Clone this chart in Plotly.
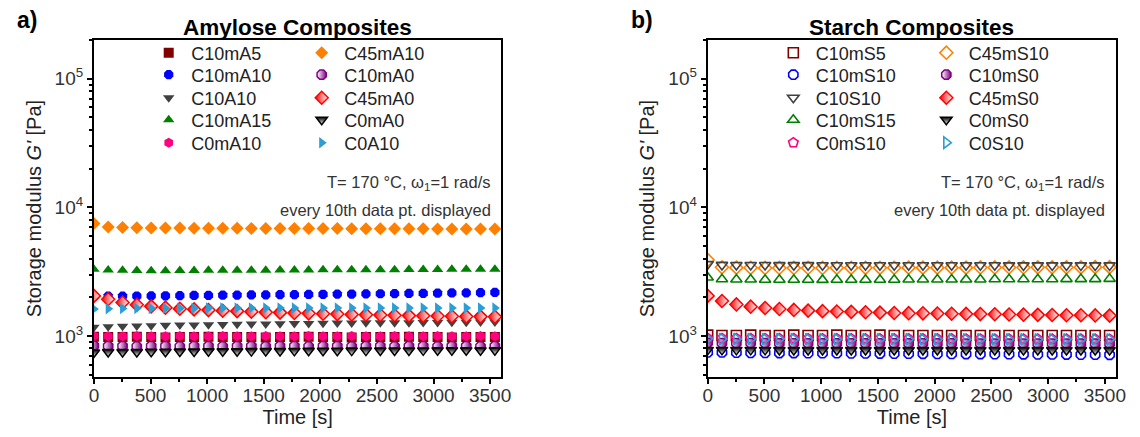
import math
import plotly.graph_objects as go

# ---------------- data ----------------
time_s = [0, 126, 253, 379, 506, 632, 759, 885, 1012, 1138, 1265, 1391, 1518, 1644, 1771,
          1897, 2024, 2150, 2277, 2403, 2530, 2656, 2783, 2909, 3036, 3162, 3289, 3415, 3542]

# Amylose composites (G' in Pa)
C10mA5 = [985, 980, 980, 985, 980, 975, 980, 980, 985, 980, 980, 980, 975, 980, 980,
          985, 980, 980, 975, 980, 980, 980, 985, 980, 980, 975, 980, 980, 980]
C10mA10 = [2030, 2040, 2040, 2045, 2050, 2055, 2060, 2065, 2070, 2075, 2080, 2085, 2090, 2095, 2100,
           2105, 2110, 2115, 2120, 2125, 2130, 2135, 2140, 2145, 2150, 2160, 2165, 2170, 2180]
C10A10 = [1170, 1180, 1190, 1195, 1200, 1210, 1215, 1220, 1225, 1230, 1235, 1240, 1240, 1245, 1250,
          1250, 1255, 1260, 1260, 1265, 1265, 1270, 1270, 1275, 1275, 1280, 1280, 1285, 1285]
C10mA15 = [3300, 3260, 3240, 3230, 3220, 3220, 3230, 3230, 3240, 3240, 3250, 3250, 3250, 3260, 3260,
           3260, 3270, 3270, 3270, 3280, 3280, 3280, 3290, 3290, 3290, 3300, 3300, 3300, 3310]
C0mA10 = [1000, 995, 995, 1000, 995, 995, 1000, 995, 995, 1000, 995, 995, 1000, 995, 995,
          1000, 995, 995, 1000, 995, 995, 1000, 995, 995, 1000, 995, 995, 1000, 995]
C45mA10 = [7500, 7050, 6980, 6950, 6920, 6900, 6900, 6880, 6880, 6870, 6870, 6860, 6860, 6850, 6850,
           6850, 6840, 6840, 6830, 6830, 6820, 6820, 6810, 6810, 6800, 6800, 6790, 6790, 6780]
C10mA0 = [840, 835, 835, 830, 835, 835, 830, 835, 835, 830, 835, 835, 830, 835, 835,
          830, 835, 835, 830, 835, 835, 830, 835, 835, 830, 835, 835, 830, 835]
C45mA0 = [2050, 1930, 1820, 1750, 1700, 1660, 1630, 1610, 1590, 1570, 1560, 1545, 1530, 1520, 1510,
          1500, 1490, 1480, 1470, 1465, 1455, 1450, 1440, 1435, 1430, 1425, 1420, 1415, 1410]
C0mA0 = [745, 750, 750, 752, 755, 755, 757, 758, 760, 760, 762, 763, 764, 765, 766,
         767, 768, 769, 770, 770, 771, 772, 772, 773, 774, 774, 775, 775, 776]
C0A10 = [1620, 1630, 1635, 1640, 1640, 1645, 1645, 1645, 1650, 1650, 1650, 1650, 1650, 1650, 1650,
         1650, 1650, 1650, 1650, 1650, 1650, 1650, 1650, 1650, 1650, 1650, 1650, 1650, 1650]

# Starch composites (G' in Pa)
C10mS5 = [1015, 1010, 1010, 1015, 1010, 1010, 1015, 1010, 1010, 1015, 1010, 1010, 1015, 1010, 1010,
          1010, 1010, 1010, 1010, 1010, 1010, 1010, 1010, 1010, 1010, 1010, 1010, 1010, 1010]
C10mS10 = [745, 745, 742, 740, 740, 738, 738, 736, 735, 735, 733, 732, 731, 730, 729,
           728, 727, 726, 725, 724, 723, 722, 721, 720, 719, 718, 717, 716, 715]
C10S10 = [3620, 3570, 3560, 3560, 3560, 3555, 3555, 3555, 3550, 3550, 3550, 3550, 3550, 3550, 3550,
          3545, 3545, 3545, 3545, 3545, 3545, 3540, 3540, 3540, 3540, 3540, 3540, 3540, 3540]
C10mS15 = [2850, 2760, 2750, 2750, 2740, 2740, 2740, 2740, 2730, 2740, 2740, 2740, 2740, 2740, 2750,
           2750, 2750, 2750, 2750, 2750, 2760, 2760, 2760, 2760, 2760, 2770, 2770, 2770, 2780]
C0mS10 = [960, 958, 958, 956, 956, 955, 955, 954, 954, 953, 953, 952, 952, 951, 951,
          950, 950, 950, 949, 949, 948, 948, 948, 947, 947, 946, 946, 946, 945]
C45mS10 = [3900, 3420, 3400, 3390, 3380, 3380, 3380, 3380, 3380, 3390, 3390, 3390, 3390, 3390, 3400,
           3400, 3400, 3400, 3400, 3410, 3410, 3410, 3410, 3420, 3420, 3420, 3420, 3430, 3430]
C10mS0 = [885, 882, 880, 880, 880, 878, 878, 878, 877, 877, 877, 876, 876, 876, 875,
          875, 875, 875, 874, 874, 874, 874, 873, 873, 873, 873, 872, 872, 872]
C45mS0 = [2050, 1870, 1760, 1690, 1650, 1620, 1595, 1575, 1560, 1550, 1540, 1530, 1520, 1510, 1505,
          1500, 1495, 1490, 1485, 1480, 1475, 1470, 1465, 1460, 1455, 1450, 1450, 1445, 1440]
C0mS0 = [780, 780, 780, 780, 780, 779, 779, 779, 779, 779, 778, 778, 778, 778, 778,
         778, 778, 778, 778, 778, 778, 778, 778, 778, 778, 778, 778, 778, 778]
C0S10 = [950, 948, 948, 947, 947, 946, 946, 946, 945, 945, 945, 944, 944, 944, 943,
         943, 943, 943, 942, 942, 942, 942, 941, 941, 941, 941, 940, 940, 940]

y_tick_vals = [1e3, 1e4, 1e5]
y_tick_text = ["10<sup>3</sup>", "10<sup>4</sup>", "10<sup>5</sup>"]
y_minor_vals = [500, 600, 700, 800, 900, 2000, 3000, 4000, 5000, 6000, 7000, 8000, 9000,
                20000, 30000, 40000, 50000, 60000, 70000, 80000, 90000, 200000]
x_tick_vals = [0, 500, 1000, 1500, 2000, 2500, 3000, 3500]

# ---------------- styles ----------------
FONT = "Liberation Sans"
OFF = 8                      # default page body margin
W, H = 1140 - OFF, 437 - OFF
MS = 10


def px(v):
    return (v - OFF) / W


def py(v):
    return (437 - v) / H


# (name, values, symbol, color, fill-mode, legend-row)
amylose = [
    ("C10mA5", C10mA5, "square", "#800000", "full", 1),
    ("C45mA10", C45mA10, "diamond", "#FF8000", "full", 1),
    ("C10mA10", C10mA10, "octagon", "#0000FF", "full", 2),
    ("C10mA0", C10mA0, "octagon", "#800080", "half-right", 2),
    ("C10A10", C10A10, "triangle-down", "#404040", "full", 3),
    ("C45mA0", C45mA0, "diamond", "#FF0000", "half-left", 3),
    ("C10mA15", C10mA15, "triangle-up", "#008000", "full", 4),
    ("C0mA0", C0mA0, "triangle-down", "#000000", "half-top", 4),
    ("C0mA10", C0mA10, "hexagon", "#FF0080", "full", 5),
    ("C0A10", C0A10, "triangle-right", "#2A9FD6", "full", 5),
]
starch = [
    ("C10mS5", C10mS5, "square", "#800000", "open", 6),
    ("C45mS10", C45mS10, "diamond", "#FF8000", "open", 6),
    ("C10mS10", C10mS10, "octagon", "#0000FF", "open", 7),
    ("C10mS0", C10mS0, "octagon", "#800080", "half-right", 7),
    ("C10S10", C10S10, "triangle-down", "#404040", "open", 8),
    ("C45mS0", C45mS0, "diamond", "#FF0000", "half-left", 8),
    ("C10mS15", C10mS15, "triangle-up", "#008000", "open", 9),
    ("C0mS0", C0mS0, "triangle-down", "#000000", "half-top", 9),
    ("C0mS10", C0mS10, "pentagon", "#FF0080", "open", 10),
    ("C0S10", C0S10, "triangle-right", "#2A9FD6", "open", 10),
]

fig = go.Figure()


def legend_name(row):
    return "legend" if row == 1 else "legend%d" % row


def add_series(spec, xa, ya):
    name, vals, sym, col, mode, row = spec
    if mode == "open":
        marker = dict(size=MS, symbol=sym + "-open", color=col, line=dict(color=col, width=1.6))
    elif mode == "half-left":
        marker = dict(size=MS, symbol=sym, color=col, line=dict(color=col, width=1.5),
                      gradient=dict(type="horizontal", color="white"))
    elif mode == "half-right":
        marker = dict(size=MS, symbol=sym, color="white", line=dict(color=col, width=1.5),
                      gradient=dict(type="horizontal", color=col))
    elif mode == "half-top":
        marker = dict(size=MS, symbol=sym, color=col, line=dict(color=col, width=1.5),
                      gradient=dict(type="vertical", color="white"))
    else:
        marker = dict(size=MS, symbol=sym, color=col, line=dict(color=col, width=0))
    fig.add_trace(go.Scatter(x=time_s, y=vals, mode="markers", name=name, marker=marker,
                             xaxis=xa, yaxis=ya, legend=legend_name(row)))


for s in amylose:
    add_series(s, "x", "y")
for s in starch:
    add_series(s, "x2", "y2")

axis_common = dict(
    showline=True, linecolor="black", linewidth=2, mirror=True,
    ticks="outside", ticklen=5, tickwidth=2, tickcolor="black",
    showgrid=False, zeroline=False,
    tickfont=dict(family=FONT, size=19, color="#333333"),
)

xaxis_common = dict(axis_common, range=[0, 3600], tickmode="array", tickvals=x_tick_vals,
                    ticklabelstandoff=-5,
                    minor=dict(ticks="outside", ticklen=3, tickwidth=1.5, tickcolor="black", dtick=250),
                    title=dict(text="Time [s]", font=dict(family=FONT, size=20, color="#222222"), standoff=3))
yaxis_common = dict(axis_common, type="log", range=[math.log10(480), math.log10(2e5)],
                    tickmode="array", tickvals=y_tick_vals, ticktext=y_tick_text,
                    minor=dict(ticks="outside", ticklen=3, tickwidth=1.5, tickcolor="black",
                               tickvals=y_minor_vals),
                    title=dict(text="Storage modulus <i>G'</i> [Pa]",
                               font=dict(family=FONT, size=20, color="#222222"), standoff=8))

legend_common = dict(orientation="h", bgcolor="rgba(0,0,0,0)", borderwidth=0,
                     font=dict(family=FONT, size=18, color="#222222"),
                     yanchor="middle", xanchor="left", itemwidth=35,
                     entrywidth=103, entrywidthmode="pixels")

row_y = [53, 75, 98, 120, 143]
legends = {}
for i in range(10):
    row = i + 1
    yy = row_y[i % 5]
    xx = 143 if row <= 5 else 776
    legends[legend_name(row)] = dict(legend_common, x=px(xx), y=py(yy))

fig.update_layout(
    width=W, height=H, margin=dict(l=0, r=0, t=0, b=0),
    paper_bgcolor="white", plot_bgcolor="white",
    xaxis=dict(xaxis_common, domain=[px(90), px(503)], anchor="y"),
    yaxis=dict(yaxis_common, domain=[py(377), py(40)], anchor="x"),
    xaxis2=dict(xaxis_common, domain=[px(712), px(1126)], anchor="y2"),
    yaxis2=dict(yaxis_common, domain=[py(377), py(40)], anchor="x2"),
    showlegend=True,
    **legends,
)

ann_font = dict(family=FONT, size=16.5, color="#333333")
for xl, xr, title, lab, labx in [(90, 503, "Amylose Composites", "a)", 10),
                                 (712, 1126, "Starch Composites", "b)", 632)]:
    fig.add_annotation(x=px((xl + xr) / 2), y=py(27), xref="paper", yref="paper", text="<b>" + title + "</b>",
                       showarrow=False, font=dict(family=FONT, size=22.5, color="black"),
                       xanchor="center", yanchor="middle")
    fig.add_annotation(x=px(labx), y=py(20), xref="paper", yref="paper", text="<b>" + lab + "</b>",
                       showarrow=False, font=dict(family=FONT, size=23, color="black"),
                       xanchor="left", yanchor="middle")
    fig.add_annotation(x=px(xr - 9), y=py(183), xref="paper", yref="paper",
                       text="T= 170 °C, ω<sub>1</sub>=1 rad/s", showarrow=False, font=ann_font,
                       xanchor="right", yanchor="middle")
    fig.add_annotation(x=px(xr - 9), y=py(210), xref="paper", yref="paper",
                       text="every 10th data pt. displayed", showarrow=False, font=ann_font,
                       xanchor="right", yanchor="middle")

fig.write_html("out.html")
